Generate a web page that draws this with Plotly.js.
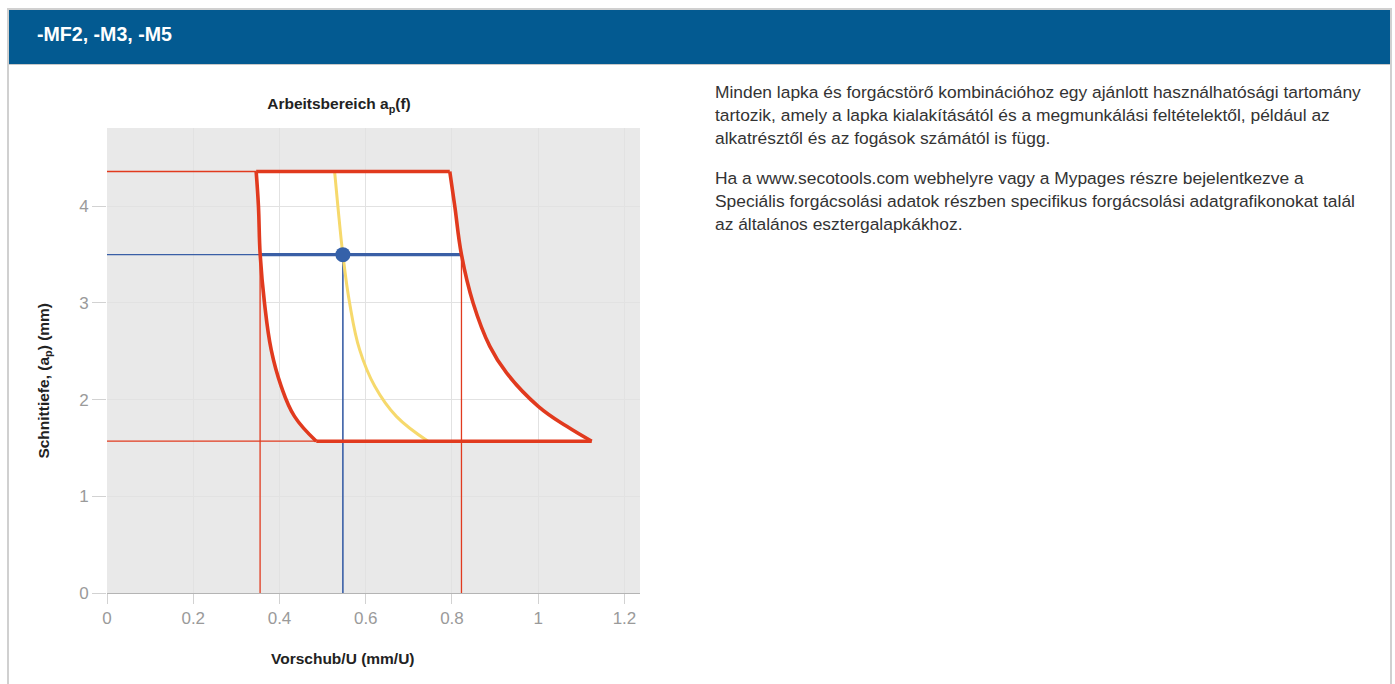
<!DOCTYPE html>
<html>
<head>
<meta charset="utf-8">
<script src="https://cdn.plot.ly/plotly-3.0.1.min.js"></script>
<style>
  html, body { margin:0; padding:0; background:#ffffff; width:1395px; height:684px; overflow:hidden; }
  #frame { position:absolute; left:7px; top:8px; width:1385px; height:690px; border-left:2px solid #d0d0d0; border-top:2px solid #d0d0d0; border-right:2px solid #d0d0d0; box-sizing:border-box; }
  #header { position:absolute; left:9px; top:10px; width:1381px; height:54px; background:#035a91; border-bottom:1px solid #c8c8c8; }
  #header span { position:absolute; left:28px; top:24px; line-height:24px; margin-top:-12px; color:#ffffff; font-family:"Liberation Sans",Arial,sans-serif; font-weight:bold; font-size:19.6px; white-space:nowrap; }
  #text { position:absolute; left:715px; top:81px; width:670px; font-family:"Liberation Sans",Arial,sans-serif; font-size:17.4px; line-height:23px; color:#333333; white-space:nowrap; }
  #text p { margin:0 0 17px 0; }
  #chart { position:absolute; left:8px; top:66px; width:662px; height:618px; }
</style>
</head>
<body>
<div id="frame"></div>
<div id="header"><span>-MF2, -M3, -M5</span></div>
<div id="text">
<p>Minden lapka és forgácstörő kombinációhoz egy ajánlott használhatósági tartomány<br>tartozik, amely a lapka kialakításától és a megmunkálási feltételektől, például az<br>alkatrésztől és az fogások számától is függ.</p>
<p>Ha a www.secotools.com webhelyre vagy a Mypages részre bejelentkezve a<br>Speciális forgácsolási adatok részben specifikus forgácsolási adatgrafikonokat talál<br>az általános esztergalapkákhoz.</p>
</div>
<div id="chart"></div>
<script>
// ---- data ----
var apMax = 4.36;          // upper depth-of-cut limit (mm)
var apMin = 1.57;          // lower depth-of-cut limit (mm)
var apSel = 3.5;           // selected depth of cut (mm)
var fSel = 0.547;          // selected feed (mm/U)
var fMinAtSel = 0.355;     // min feed at selected ap
var fMaxAtSel = 0.822;     // max feed at selected ap

var leftX  = [0.3459, 0.3512, 0.3552, 0.3652, 0.3807, 0.4040, 0.4348, 0.4853];
var leftY  = [4.36,   4.00,   3.50,   3.00,   2.517,  2.138,  1.827,  1.57];
var rightX = [0.7949, 0.8065, 0.8220, 0.8490, 0.8878, 0.9266, 1.0000, 1.0660, 1.1240];
var rightY = [4.36,   4.00,   3.50,   3.00,   2.551,  2.276,  1.931,  1.724,  1.57];
var yellowX = [0.5278, 0.5354, 0.5470, 0.5626, 0.5858, 0.6210, 0.6710, 0.7445];
var yellowY = [4.36,   4.00,   3.50,   3.00,   2.517,  2.138,  1.827,  1.57];

var xTicks = [0, 0.2, 0.4, 0.6, 0.8, 1, 1.2];
var xTickText = ['0', '0.2', '0.4', '0.6', '0.8', '1', '1.2'];
var yTicks = [0, 1, 2, 3, 4];
var yTickText = ['0', '1', '2', '3', '4'];

var RED = '#e13a1e', BLUE = '#3a5fa6', YEL = '#f6d96c';
var FONT = '"Liberation Sans", Arial, sans-serif';

// polygon path for the white working area (drawn beneath gridlines)
var polyX = [leftX[0]].concat(rightX, leftX.slice().reverse());
var polyY = [leftY[0]].concat(rightY, leftY.slice().reverse());
var path = 'M' + polyX.map(function(x, i){ return x + ',' + polyY[i]; }).join(' L') + ' Z';

var SM = 1.15;
var traces = [
  // thin reference lines
  {x:[0, leftX[0]], y:[apMax, apMax], mode:'lines', line:{color:RED, width:1.3}},
  {x:[0, leftX[leftX.length-1]], y:[apMin, apMin], mode:'lines', line:{color:RED, width:1.3}},
  {x:[fMinAtSel, fMinAtSel], y:[0, apSel], mode:'lines', line:{color:RED, width:1.3}},
  {x:[fMaxAtSel, fMaxAtSel], y:[0, apSel], mode:'lines', line:{color:RED, width:1.3}},
  {x:[0, fMinAtSel], y:[apSel, apSel], mode:'lines', line:{color:BLUE, width:1.3}},
  {x:[fSel, fSel], y:[0, apSel], mode:'lines', line:{color:BLUE, width:1.6}},
  // yellow curve
  {x:yellowX, y:yellowY, mode:'lines', line:{color:YEL, width:3, shape:'spline', smoothing:SM}},
  // thick blue selected line
  {x:[fMinAtSel, fMaxAtSel], y:[apSel, apSel], mode:'lines', line:{color:BLUE, width:3.2}},
  // red boundary
  {x:leftX, y:leftY, mode:'lines', line:{color:RED, width:3.6, shape:'spline', smoothing:SM}},
  {x:rightX, y:rightY, mode:'lines', line:{color:RED, width:3.6, shape:'spline', smoothing:SM}},
  {x:[leftX[0], rightX[0]], y:[apMax, apMax], mode:'lines', line:{color:RED, width:3.6}},
  {x:[leftX[leftX.length-1], rightX[rightX.length-1]], y:[apMin, apMin], mode:'lines', line:{color:RED, width:3.6}},
  // selected point
  {x:[fSel], y:[apSel], mode:'markers', marker:{color:'#3561a9', size:15}}
];

var layout = {
  width:662, height:618,
  margin:{l:99, r:30, t:62, b:91},
  paper_bgcolor:'rgba(0,0,0,0)',
  plot_bgcolor:'#e9e9e9',
  showlegend:false,
  hovermode:false,
  title:{text:'<b>Arbeitsbereich a<sub>p</sub>(f)</b>', x:0.5, xref:'container', xanchor:'center',
         y:0.9385, yref:'container', yanchor:'middle', font:{family:FONT, size:15.5, color:'#222222'}},
  xaxis:{range:[0, 1.236], tickvals:xTicks, ticktext:xTickText, showgrid:true, gridcolor:'#e2e2e2', gridwidth:1,
         zeroline:false, showline:true, linecolor:'#b4b4b4', linewidth:1,
         ticks:'outside', ticklen:10, tickcolor:'#d2d2d2', tickwidth:1,
         tickfont:{family:FONT, size:17, color:'#9a9a9a'}, fixedrange:true},
  yaxis:{range:[0, 4.81], tickvals:yTicks, ticktext:yTickText, showgrid:true, gridcolor:'#e2e2e2', gridwidth:1,
         zeroline:false, showline:false,
         ticks:'outside', ticklen:14, tickcolor:'#d2d2d2', tickwidth:1,
         tickfont:{family:FONT, size:17, color:'#9a9a9a'}, fixedrange:true},
  shapes:[{type:'path', path:path, xref:'x', yref:'y', layer:'below', fillcolor:'#ffffff', line:{width:0}}],
  annotations:[
    {text:'<b>Vorschub/U (mm/U)</b>', xref:'paper', yref:'paper', x:0.442, y:-0.14, xanchor:'center', yanchor:'middle',
     showarrow:false, font:{family:FONT, size:15.5, color:'#222222'}},
    {text:'<b>Schnittiefe, (a<sub>p</sub>) (mm)</b>', xref:'paper', yref:'paper', x:-0.117, y:0.456, xanchor:'center', yanchor:'middle',
     textangle:-90, showarrow:false, font:{family:FONT, size:15.5, color:'#222222'}}
  ]
};

Plotly.newPlot('chart', traces, layout, {displayModeBar:false, staticPlot:true});
</script>
</body>
</html>
